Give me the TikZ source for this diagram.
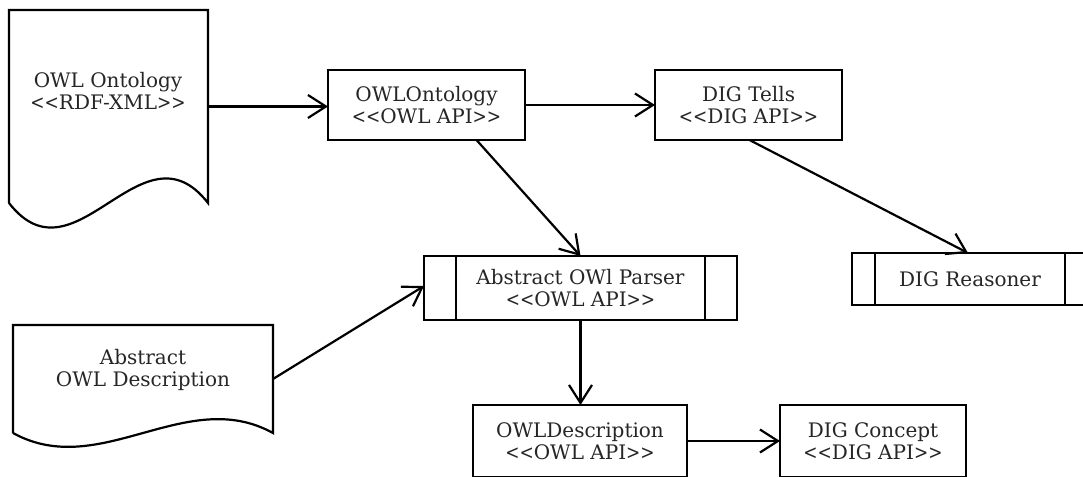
\documentclass[tikz,border=0pt]{standalone}
\usepackage{fontspec}
\usepackage{graphicx}
\setmainfont{DejaVu Serif}
\usetikzlibrary{arrows.meta}

% stereotype brackets, set a little narrower than the plain glyphs
\newcommand{\stlt}{\scalebox{0.85}[1]{<}}
\newcommand{\stgt}{\scalebox{0.85}[1]{>}}
\newcommand{\stereo}[1]{\stlt\stlt#1\stgt\stgt}

\tikzset{
  ink/.style={line width=2.2pt, black},
  box/.style={ink, draw, rectangle, inner sep=0pt, outer sep=0pt, fill=white,
    align=center, text=black!85, font=\fontsize{20}{22}\selectfont},
  docframe/.style={inner sep=0pt, outer sep=0pt},
  doctext/.style={align=center, text=black!85, font=\fontsize{20}{22}\selectfont},
  flow/.style={ink, -{Straight Barb[length=18pt, width=23pt, line width=2.2pt]}},
}

\begin{document}
\begin{tikzpicture}[x=1pt, y=-1pt]
  \useasboundingbox (0,0) rectangle (1083,476);
  \clip (0,0) rectangle (1083,476);

  % source documents (straight part of each sheet; the wavy edge is drawn below)
  \node[docframe, minimum width=199pt, minimum height=193pt] (doc1) at (108.5,106.5) {};
  \node[docframe, minimum width=260pt, minimum height=108pt] (doc2) at (143,379) {};
  \draw[ink, line join=miter] (doc1.south west) -- (doc1.north west) -- (doc1.north east) -- (doc1.south east)
    .. controls +(-66,-85) and +(66,85) .. (doc1.south west);
  \draw[ink, line join=miter] (doc2.south west) -- (doc2.north west) -- (doc2.north east) -- (doc2.south east)
    .. controls +(-87,-48) and +(87,48) .. (doc2.south west);
  \node[doctext] (doc1text) at (108,91) {OWL Ontology\\\stereo{RDF-XML}};
  \node[doctext] (doc2text) at (143,369.5) {Abstract\\OWL Description};

  % API objects
  \node[box, minimum width=197pt, minimum height=70pt] (onto) at (426.5,105) {OWLOntology\\\stereo{OWL API}};
  \node[box, minimum width=187pt, minimum height=70pt] (tells) at (748.5,105) {DIG Tells\\\stereo{DIG API}};
  \node[box, minimum width=214pt, minimum height=72pt] (desc) at (580,441) {OWLDescription\\\stereo{OWL API}};
  \node[box, minimum width=186pt, minimum height=72pt] (concept) at (873,441) {DIG Concept\\\stereo{DIG API}};

  % processes (boxes with side bars)
  \node[box, minimum width=313pt, minimum height=64pt] (parser) at (580.5,288) {Abstract OWl Parser\\\stereo{OWL API}};
  \draw[ink] ([xshift=32pt]parser.north west) -- ([xshift=32pt]parser.south west);
  \draw[ink] ([xshift=-32pt]parser.north east) -- ([xshift=-32pt]parser.south east);
  \node[box, minimum width=236pt, minimum height=52pt] (reasoner) at (970,279) {DIG Reasoner};
  \draw[ink] ([xshift=23pt]reasoner.north west) -- ([xshift=23pt]reasoner.south west);
  \draw[ink] ([xshift=-23pt]reasoner.north east) -- ([xshift=-23pt]reasoner.south east);

  % data flow
  \draw[flow] (doc1.east) -- (doc1.east -| onto.west);
  \draw[flow] (onto.east) -- (tells.west);
  \draw[flow] ([xshift=50pt]onto.south) -- (parser.north);
  \draw[flow] ([xshift=1pt]tells.south) -- ([xshift=-2pt]reasoner.north);
  \draw[flow] (doc2.east) -- ([yshift=2pt]parser.west);
  \draw[flow] (parser.south) -- (parser.south |- desc.north);
  \draw[flow] (desc.east) -- (concept.west);
\end{tikzpicture}
\end{document}
